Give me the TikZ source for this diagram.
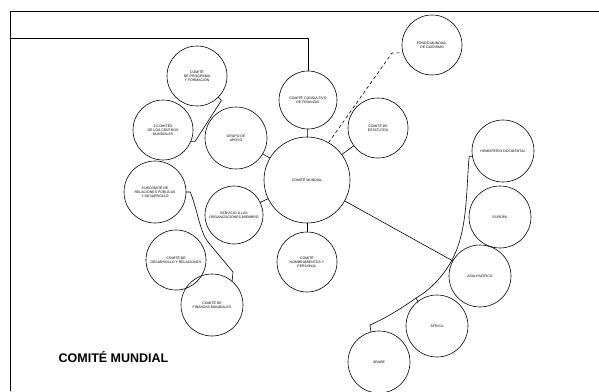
\documentclass[tikz,border=0pt]{standalone}
\usepackage{fontspec}
\setmainfont{Liberation Sans}
\begin{document}
\begin{tikzpicture}[x=1pt,y=-1pt,line join=round,line cap=round,line width=0.6pt]
	\tikzset{every node/.style={font=\fontsize{3.5}{4}\selectfont,align=center}}
	\tikzset{comite/.style={draw,circle,inner sep=0pt,minimum size=60pt}}
	\useasboundingbox (0,0) rectangle (599,391);
	\draw (10,391)--(10,11)--(599,11);
	\coordinate (esquina) at (308,38);
	\node[comite,minimum size=86pt] (mundial) at (307,180) {COMITÉ MUNDIAL};
	\node[comite,minimum size=58pt] (consultivo) at (308,100) {COMITÉ CONSULTIVO\\DE FINANZAS};
	\node[comite] (fundacion) at (432,45) {FONDO MUNDIAL,\\DE GUIDISMO};
	\node[comite] (estatutos) at (378,128) {COMITÉ DE\\ESTATUTOS};
	\node[comite] (programa) at (197,76) {COMITÉ\\DE PROGRAMA\\Y FORMACIÓN};
	\node[comite] (centros) at (163,130) {3 COMITÉS\\DE LOS CENTROS\\MUNDIALES};
	\node[comite,minimum size=62pt] (apoyo) at (236,138) {GRUPO DE\\APOYO};
	\node[comite,minimum size=62pt] (relaciones) at (155,192) {SUBCOMITÉ DE\\RELACIONES PÚBLICAS\\Y DESARROLLO};
	\node[comite,minimum size=58pt] (servicio) at (234,215) {SERVICIO A LAS\\ORGANIZACIONES MIEMBRO};
	\node[comite] (desarrollo) at (176,260) {COMITÉ DE\\DESARROLLO Y RELACIONES};
	\node[comite,minimum size=62pt] (finanzas) at (212,305) {COMITÉ DE\\FINANZAS MUNDIALES};
	\node[comite] (personal) at (307,262) {COMITÉ\\NOMBRAMIENTOS Y\\PERSONAL};
	\node[comite,minimum size=62pt] (hemisferio) at (503,151) {HEMISFERIO OCCIDENTAL};
	\node[comite,minimum size=62pt] (europa) at (500,217) {EUROPA};
	\node[comite,minimum size=62pt] (asia) at (480,276) {ASIA-PACÍFICO};
	\node[comite,minimum size=62pt] (africa) at (437,326) {ÁFRICA};
	\node[comite,minimum size=62pt] (arabe) at (379,362) {ÁRABE};
	\node[anchor=west,font=\bfseries\fontsize{12.5}{14}\selectfont] (titulo) at (55,357) {COMITÉ MUNDIAL};
	\draw (10,38)--(esquina)--(consultivo);
	\draw (mundial)--(consultivo);
	\draw (mundial)--(estatutos);
	\draw (mundial)--(apoyo);
	\draw (mundial)--(servicio);
	\draw (mundial)--(personal);
	\draw (mundial)--(asia);
	\coordinate (quiebre) at (392,53);
	\draw[dashed] (mundial.60)--(quiebre)--(fundacion.195);
	\draw (programa.-45)--++(3,3)--([xshift=4pt]centros.-22)--(centros.-22);
	\draw (relaciones.east)--++(4,0) .. controls (198,212) and (200,232) .. (208,242)--(233,272)--(finanzas.50);
	\coordinate (pAfrica) at (416,298);
	\coordinate (pArabe) at (370,325);
	\draw (hemisferio.190)--++(-3,0) .. controls (466,190) and (468,228) .. (453,258) .. controls (444,276) and (430,290) .. (pAfrica) .. controls (402,308) and (386,318) .. (pArabe);
	\draw (pAfrica)--(africa.128);
	\draw (pArabe)--(arabe.105);
\end{tikzpicture}
\end{document}
